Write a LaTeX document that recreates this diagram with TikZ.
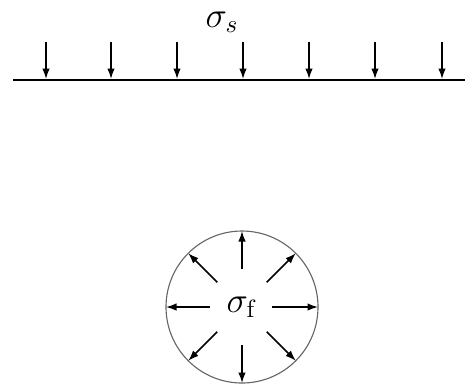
\documentclass[tikz,border=0pt]{standalone}
\usetikzlibrary{arrows.meta}
\tikzset{
  ground/.style = {line width=0.8pt},
  load/.style   = {-{Latex[length=4.2pt,width=3pt]}, line width=0.6pt},
  pore/.style   = {circle, draw=black!60, line width=0.45pt, inner sep=0pt,
                   minimum size=60.8pt},
  lbl/.style    = {font=\Large, inner sep=1pt},
}
\begin{document}
\begin{tikzpicture}[x=0.4pt, y=-0.4pt]
  \useasboundingbox (0,0) rectangle (465,383);

  % surface load
  \node[lbl] (sigS) at (222,22) {$\sigma_s$};
  \coordinate (gL) at (13,80);
  \coordinate (gR) at (465,80);
  \draw[ground] (gL) -- (gR);
  \foreach \i/\x in {1/46,2/111,3/177,4/243,5/309,6/375,7/442} {
    \coordinate (t\i) at (\x,42);
    \coordinate (h\i) at (\x,79);
    \draw[load] (t\i) -- (h\i);
  }

  % pore pressure
  \node[pore] (pore) at (242,307) {};
  \node[lbl] (sigF) at (pore.center) {$\sigma_\mathrm{f}$};
  \foreach \a/\r in {0/30,45/35,90/38,135/35,180/32,225/35,270/38,315/35} {
    \coordinate (p\a) at ([shift={(\a:\r)}]pore.center);
    \coordinate (q\a) at ([shift={(\a:76)}]pore.center);
    \draw[load] (p\a) -- (q\a);
  }
\end{tikzpicture}
\end{document}
